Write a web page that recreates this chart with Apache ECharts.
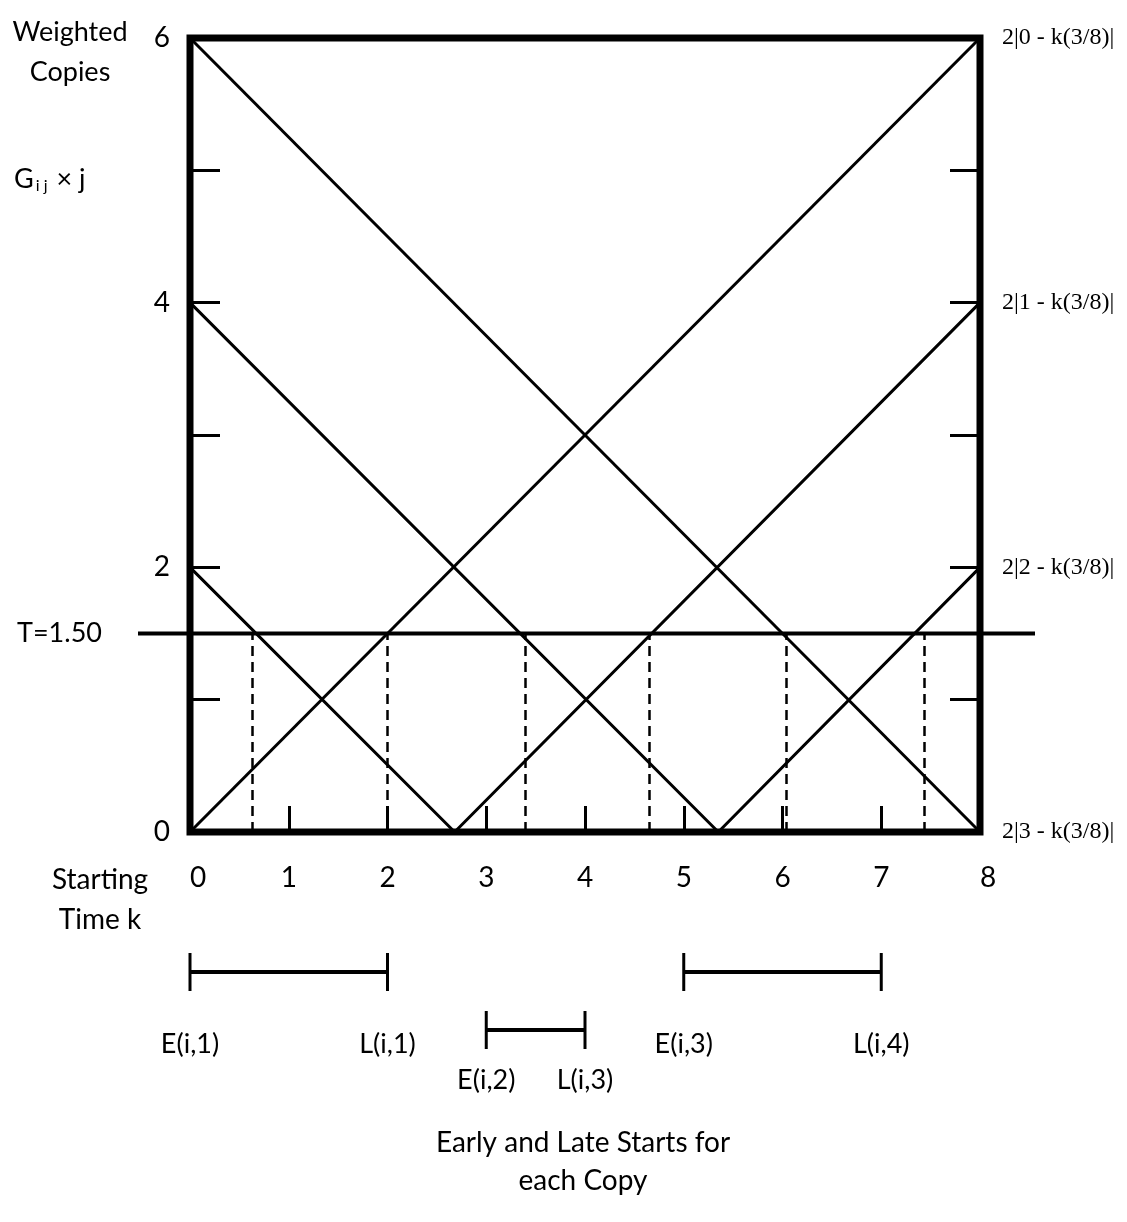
<!DOCTYPE html>
<html>
<head>
<meta charset="utf-8">
<script src="https://cdn.jsdelivr.net/npm/echarts@6/dist/echarts.min.js"></script>
<style>
  html, body { margin: 0; padding: 0; background: #fff; }
  #main { width: 1127px; height: 1222px; }
</style>
</head>
<body>
<div id="main"></div>
<script>
// weighted copy lines, [k, value]
var lineA = [[0, 6], [8, 0]];
var lineB = [[0, 0], [8, 6]];
var lineC = [[0, 4], [5.35, 0], [8, 2]];
var lineD = [[0, 2], [2.68, 0], [8, 4]];
var threshold = 1.5;
var thresholdSpan = [-0.527, 8.557];
var crossK = [0.63, 2.0, 3.39, 4.65, 6.04, 7.44];
var rightLabels = { 0: '2|3 - k(3/8)|', 2: '2|2 - k(3/8)|', 4: '2|1 - k(3/8)|', 6: '2|0 - k(3/8)|' };

// early / late starts
var startK = [0, 3, 5];
var endK = [2, 4, 7];
var startNames = ['E(i,1)', 'E(i,2)', 'E(i,3)'];
var endNames = ['L(i,1)', 'L(i,3)', 'L(i,4)'];
var rowOf = [1, 0, 1];

var FONT = 'Lato, "Open Sans", sans-serif';
var chart = echarts.init(document.getElementById('main'));

function plainLine(data) {
  return {
    type: 'line',
    data: data,
    symbol: 'none',
    lineStyle: { color: '#000', width: 3 },
    silent: true,
    animation: false
  };
}

var series = [plainLine(lineA), plainLine(lineB), plainLine(lineC), plainLine(lineD)];

var dashes = [];
for (var i = 0; i < crossK.length; i++) {
  dashes.push([{ coord: [crossK[i], 0] }, { coord: [crossK[i], threshold] }]);
}
series[0].markLine = {
  silent: true,
  symbol: 'none',
  animation: false,
  label: { show: false },
  lineStyle: { color: '#000', width: 2.5, type: [10, 6] },
  data: dashes
};

// threshold line sits on its own wider grid so it can run past the frame
series.push({
  type: 'line',
  xAxisIndex: 2,
  yAxisIndex: 3,
  data: [[thresholdSpan[0], threshold], [thresholdSpan[1], threshold]],
  symbol: 'circle',
  symbolSize: 0.1,
  showSymbol: true,
  itemStyle: { color: '#000' },
  lineStyle: { color: '#000', width: 4 },
  animation: false,
  label: {
    show: true,
    position: 'left',
    distance: 36,
    formatter: function (p) { return p.dataIndex === 0 ? 'T=1.50' : ''; },
    fontFamily: FONT, fontSize: 27, color: '#000'
  }
});

for (var j = 0; j < startK.length; j++) {
  (function (j) {
    var names = [startNames[j], endNames[j]];
    series.push({
      type: 'line',
      xAxisIndex: 1,
      yAxisIndex: 2,
      data: [[startK[j], rowOf[j]], [endK[j], rowOf[j]]],
      symbol: 'rect',
      symbolSize: [3, 38],
      itemStyle: { color: '#000' },
      lineStyle: { color: '#000', width: 4 },
      animation: false,
      label: {
        show: true,
        position: 'bottom',
        distance: rowOf[j] === 1 ? 40 : 18,
        formatter: function (p) { return names[p.dataIndex]; },
        fontFamily: FONT, fontSize: 27, color: '#000'
      }
    });
  })(j);
}

chart.setOption({
  backgroundColor: '#fff',
  animation: false,
  textStyle: { fontFamily: FONT, color: '#000' },
  grid: [
    { left: 190, right: 147, top: 38, bottom: 390, show: true, borderColor: '#000', borderWidth: 7 },
    { left: 190, right: 147, top: 972, height: 58 },
    { left: 138, right: 92, top: 38, bottom: 390 }
  ],
  xAxis: [{
    type: 'value', gridIndex: 0, min: 0, max: 8, interval: 1,
    axisLine: { show: false },
    axisTick: { show: true, inside: true, length: 26, lineStyle: { color: '#000', width: 3 } },
    splitLine: { show: false },
    axisLabel: { fontFamily: FONT, fontSize: 28, color: '#000', margin: 32, alignMinLabel: 'left', alignMaxLabel: 'left' }
  }, {
    type: 'value', gridIndex: 1, min: 0, max: 8, show: false
  }, {
    type: 'value', gridIndex: 2, min: thresholdSpan[0], max: thresholdSpan[1], show: false
  }],
  yAxis: [{
    type: 'value', gridIndex: 0, min: 0, max: 6, interval: 1, position: 'left',
    axisLine: { show: false },
    axisTick: { show: true, inside: true, length: 30, lineStyle: { color: '#000', width: 3 } },
    splitLine: { show: false },
    axisLabel: {
      fontFamily: FONT, fontSize: 28, color: '#000', margin: 20,
      formatter: function (v) { return v % 2 === 0 ? String(v) : ''; }
    }
  }, {
    type: 'value', gridIndex: 0, min: 0, max: 6, interval: 1, position: 'right',
    axisLine: { show: false },
    axisTick: { show: true, inside: true, length: 30, lineStyle: { color: '#000', width: 3 } },
    splitLine: { show: false },
    axisLabel: {
      fontFamily: '"Liberation Serif", serif', fontSize: 24, color: '#000', margin: 22,
      formatter: function (v) { return rightLabels[v] || ''; }
    }
  }, {
    type: 'value', gridIndex: 1, min: 0, max: 1, show: false
  }, {
    type: 'value', gridIndex: 2, min: 0, max: 6, show: false
  }],
  graphic: [
    {
      type: 'text', x: 70, y: 12,
      style: { text: 'Weighted\nCopies', fontFamily: FONT, fontSize: 27, lineHeight: 40, align: 'center', fill: '#000' }
    },
    {
      type: 'text', x: 14, y: 164,
      style: {
        text: '{g|G}{s|i j}{g| × j}',
        rich: {
          g: { fontFamily: FONT, fontSize: 27, fill: '#000' },
          s: { fontFamily: FONT, fontSize: 16, fill: '#000', verticalAlign: 'bottom', padding: [14, 2, 0, 2] }
        }
      }
    },
    {
      type: 'text', x: 100, y: 860,
      style: { text: 'Starting\nTime k', fontFamily: FONT, fontSize: 28, lineHeight: 40, align: 'center', fill: '#000' }
    },
    {
      type: 'text', x: 583, y: 1124,
      style: { text: 'Early and Late Starts for\neach Copy', fontFamily: FONT, fontSize: 28, lineHeight: 38, align: 'center', fill: '#000' }
    }
  ],
  series: series
});
</script>
</body>
</html>
